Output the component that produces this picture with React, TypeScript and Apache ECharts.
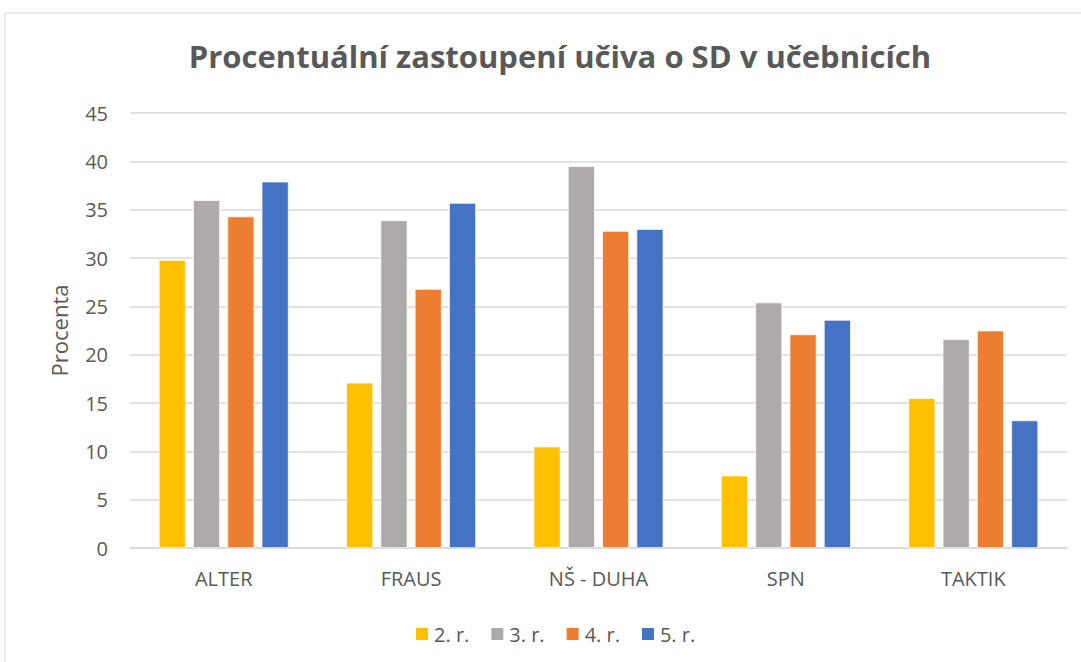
import React, { useEffect, useRef } from "react";
import * as echarts from "echarts";

const categories = ["ALTER", "FRAUS", "NŠ - DUHA", "SPN", "TAKTIK"];
const seriesNames = ["2. r.", "3. r.", "4. r.", "5. r."];
const r2 = [29.8, 17.1, 10.5, 7.5, 15.5];
const r3 = [36.0, 33.9, 39.5, 25.4, 21.6];
const r4 = [34.3, 26.8, 32.8, 22.1, 22.5];
const r5 = [37.9, 35.7, 33.0, 23.6, 13.2];
const colors = ["#FFC000", "#AEAAAA", "#ED7D31", "#4472C4"];
const FONT = "Open Sans";

export default function App() {
  const ref = useRef<HTMLDivElement>(null);
  useEffect(() => {
    const chart = echarts.init(ref.current!, null, { renderer: "svg" });
    const data = [r2, r3, r4, r5];
    chart.setOption({
      animation: false,
      title: {
        text: "Procentuální zastoupení učiva o SD v učebnicích",
        left: 555,
        textAlign: "center",
        top: 35,
        textStyle: { fontSize: 31, fontWeight: "bold", color: "#595959", fontFamily: FONT },
      },
      graphic: [
        {
          type: "rect",
          shape: { x: 5, y: 13, width: 1100, height: 700 },
          style: { fill: "none", stroke: "#D9D9D9", lineWidth: 1 },
          silent: true,
        },
      ],
      legend: {
        data: seriesNames,
        bottom: 13,
        left: 409,
        itemWidth: 14,
        itemHeight: 14,
        itemGap: 20,
        icon: "rect",
        textStyle: { fontSize: 20, color: "#595959", fontFamily: FONT },
        orient: "horizontal",
      },
      grid: { left: 130, right: 14, top: 113, bottom: 114, containLabel: false },
      xAxis: {
        type: "category",
        data: categories,
        axisLine: { lineStyle: { color: "#D9D9D9", width: 1.5 } },
        axisTick: { show: false },
        axisLabel: { fontSize: 20, color: "#595959", margin: 20, fontFamily: FONT },
      },
      yAxis: {
        type: "value",
        min: 0,
        max: 45,
        interval: 5,
        name: "Procenta",
        nameLocation: "middle",
        nameGap: 60,
        nameTextStyle: { fontSize: 22, color: "#595959", fontFamily: FONT },
        axisLine: { show: false },
        axisTick: { show: false },
        axisLabel: { fontSize: 20, color: "#595959", margin: 22, fontFamily: FONT },
        splitLine: { lineStyle: { color: "#D9D9D9", width: 1.5 } },
      },
      series: data.map((d, i) => ({
        name: seriesNames[i],
        type: "bar",
        data: d,
        barWidth: 27,
        barGap: "27%",
        itemStyle: { color: colors[i], borderColor: "#fff", borderWidth: 0.75 },
      })),
    });
    return () => chart.dispose();
  }, []);
  return <div ref={ref} style={{ position: "fixed", left: 0, top: 0, width: 1081, height: 662, background: "#fff" }} />;
}
